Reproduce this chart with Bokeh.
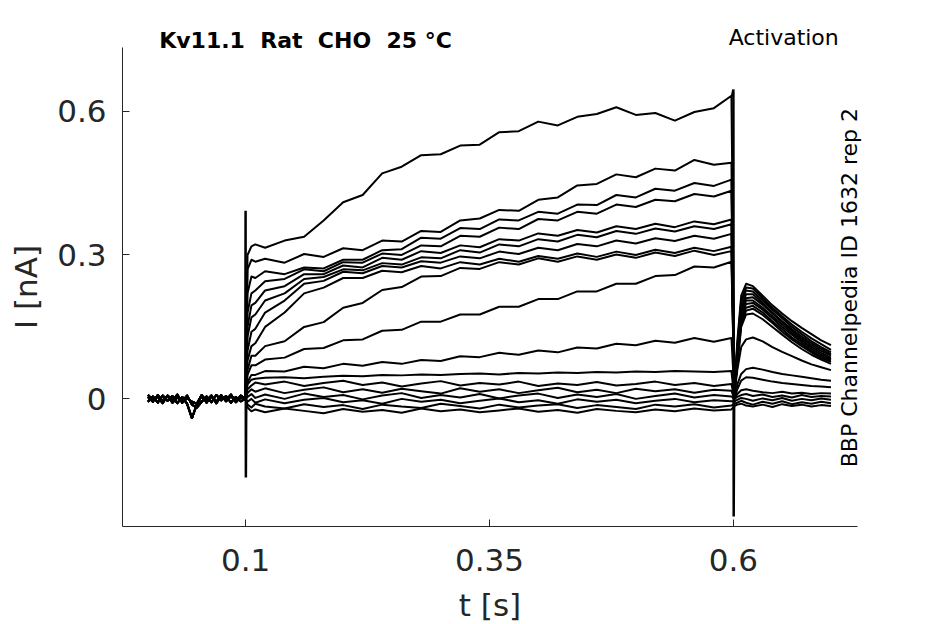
from bokeh.plotting import figure
from bokeh.models import Range1d, FixedTicker, Label
from bokeh.embed import file_html
from bokeh.resources import INLINE
import math

# time grids (s)
t_pre = [0.0, 0.005, 0.01, 0.015, 0.02, 0.025, 0.03, 0.035, 0.04, 0.045, 0.05,
         0.055, 0.06, 0.065, 0.07, 0.075, 0.08, 0.085, 0.09, 0.095, 0.0995]
t_step = [0.100, 0.102, 0.106, 0.110, 0.120, 0.140, 0.160, 0.180, 0.200, 0.220,
          0.240, 0.260, 0.280, 0.300, 0.320, 0.340, 0.360, 0.380, 0.400, 0.420,
          0.440, 0.460, 0.480, 0.500, 0.520, 0.540, 0.560, 0.580, 0.598]
t_tail = [0.601, 0.604, 0.608, 0.613, 0.62, 0.63, 0.64, 0.65, 0.66, 0.67, 0.68, 0.69, 0.70]

# holding baselines (nA)
pre_1 = [0.004, -0.006, 0.008, -0.004, 0.006, -0.008, 0.003, -0.005, 0.007, -0.012, -0.018,
         -0.006, 0.005, -0.007, 0.008, -0.003, 0.006, -0.008, 0.004, -0.005, 0.0]
pre_2 = [-0.006, 0.005, -0.008, 0.007, -0.004, 0.006, -0.009, 0.004, -0.01, -0.04, -0.012,
         0.006, -0.008, 0.005, -0.006, 0.008, -0.005, 0.006, -0.007, 0.004, 0.0]
pre_3 = [0.008, -0.002, 0.004, -0.009, 0.007, -0.003, 0.009, -0.008, 0.002, -0.006, -0.01,
         0.008, -0.004, 0.007, -0.009, 0.005, -0.002, 0.009, -0.006, 0.007, 0.0]

# activation step currents (nA)
step_a = [0.0, 0.30, 0.318, 0.322, 0.315, 0.33, 0.338, 0.372, 0.41, 0.425, 0.47, 0.484, 0.508, 0.51,
          0.528, 0.53, 0.556, 0.558, 0.578, 0.57, 0.588, 0.594, 0.608, 0.592, 0.596, 0.58, 0.598, 0.606, 0.632]
step_b = [0.0, 0.27, 0.29, 0.286, 0.292, 0.284, 0.302, 0.296, 0.314, 0.31, 0.33, 0.328, 0.35, 0.348,
          0.372, 0.376, 0.394, 0.392, 0.415, 0.42, 0.445, 0.448, 0.468, 0.462, 0.48, 0.476, 0.498, 0.488, 0.492]
step_c = [0.0, 0.22, 0.255, 0.252, 0.266, 0.26, 0.274, 0.272, 0.29, 0.29, 0.31, 0.312, 0.336, 0.334,
          0.356, 0.354, 0.374, 0.372, 0.39, 0.386, 0.405, 0.404, 0.425, 0.42, 0.438, 0.434, 0.45, 0.444, 0.457]
step_d = [0.0, 0.18, 0.22, 0.226, 0.245, 0.25, 0.27, 0.266, 0.285, 0.284, 0.303, 0.3, 0.32, 0.318,
          0.34, 0.338, 0.357, 0.354, 0.375, 0.372, 0.39, 0.386, 0.405, 0.4, 0.415, 0.412, 0.427, 0.422, 0.434]
step_e = [0.0, 0.15, 0.195, 0.2, 0.226, 0.235, 0.26, 0.26, 0.278, 0.274, 0.294, 0.29, 0.308, 0.304,
          0.32, 0.316, 0.333, 0.33, 0.345, 0.34, 0.352, 0.347, 0.36, 0.354, 0.365, 0.358, 0.37, 0.364, 0.374]
step_f = [0.0, 0.13, 0.17, 0.176, 0.205, 0.22, 0.25, 0.254, 0.27, 0.268, 0.283, 0.28, 0.295, 0.293,
          0.31, 0.305, 0.322, 0.318, 0.333, 0.328, 0.342, 0.337, 0.35, 0.344, 0.355, 0.349, 0.36, 0.354, 0.364]
step_g = [0.0, 0.10, 0.14, 0.146, 0.18, 0.205, 0.24, 0.246, 0.265, 0.262, 0.277, 0.274, 0.287, 0.284,
          0.297, 0.293, 0.307, 0.302, 0.315, 0.31, 0.323, 0.318, 0.33, 0.324, 0.335, 0.329, 0.34, 0.334, 0.344]
step_h = [0.0, 0.08, 0.11, 0.116, 0.15, 0.18, 0.22, 0.232, 0.252, 0.252, 0.267, 0.264, 0.277, 0.272,
          0.285, 0.28, 0.292, 0.286, 0.298, 0.292, 0.303, 0.296, 0.307, 0.3, 0.311, 0.304, 0.315, 0.308, 0.317]
step_i = [0.0, 0.06, 0.09, 0.09, 0.11, 0.12, 0.15, 0.16, 0.19, 0.2, 0.227, 0.233, 0.255, 0.256,
          0.273, 0.271, 0.285, 0.28, 0.293, 0.286, 0.297, 0.29, 0.301, 0.294, 0.305, 0.298, 0.309, 0.3, 0.308]
step_j = [0.0, 0.05, 0.07, 0.07, 0.082, 0.086, 0.104, 0.106, 0.122, 0.124, 0.142, 0.144, 0.161, 0.161,
          0.176, 0.176, 0.192, 0.192, 0.208, 0.208, 0.224, 0.224, 0.24, 0.24, 0.256, 0.258, 0.276, 0.274, 0.286]
step_k = [0.0, 0.035, 0.05, 0.05, 0.058, 0.057, 0.067, 0.064, 0.073, 0.069, 0.077, 0.073, 0.081, 0.079,
          0.089, 0.087, 0.096, 0.092, 0.101, 0.097, 0.107, 0.105, 0.115, 0.112, 0.121, 0.117, 0.127, 0.119, 0.127]
step_l = [0.0, 0.03, 0.04, 0.042, 0.044, 0.045, 0.043, 0.046, 0.048, 0.047, 0.05, 0.049, 0.051, 0.05,
          0.052, 0.053, 0.051, 0.054, 0.053, 0.055, 0.054, 0.056, 0.055, 0.057, 0.056, 0.058, 0.057, 0.056, 0.058]
step_m = [0.0, 0.02, 0.028, 0.034, 0.03, 0.036, 0.027, 0.033, 0.038, 0.029, 0.034, 0.026, 0.032, 0.037,
          0.028, 0.033, 0.03, 0.036, 0.027, 0.032, 0.029, 0.035, 0.028, 0.031, 0.036, 0.029, 0.033, 0.027, 0.031]
step_n = [0.0, 0.012, 0.02, 0.015, 0.022, 0.012, 0.019, 0.024, 0.014, 0.02, 0.013, 0.021, 0.016, 0.011,
          0.022, 0.015, 0.02, 0.012, 0.018, 0.023, 0.014, 0.019, 0.012, 0.021, 0.016, 0.02, 0.013, 0.019, 0.017]
step_o = [0.0, 0.004, 0.01, 0.002, 0.009, 0.0, 0.011, 0.004, 0.008, -0.001, 0.007, 0.012, 0.002, 0.008,
          0.003, 0.01, 0.001, 0.007, 0.011, 0.002, 0.009, 0.004, 0.01, 0.0, 0.006, 0.011, 0.003, 0.008, 0.005]
step_p = [0.0, -0.006, 0.0, -0.008, -0.001, -0.009, -0.002, 0.002, -0.007, -0.003, -0.01, 0.0, -0.006, -0.002,
          -0.009, -0.004, 0.001, -0.007, -0.003, -0.01, -0.001, -0.006, -0.002, -0.009, -0.004, 0.0, -0.007, -0.003, -0.005]
step_q = [0.0, -0.012, -0.018, -0.01, -0.016, -0.02, -0.011, -0.017, -0.013, -0.021, -0.012, -0.016, -0.019, -0.01,
          -0.015, -0.02, -0.012, -0.018, -0.014, -0.011, -0.019, -0.013, -0.017, -0.021, -0.012, -0.016, -0.011, -0.018, -0.014]
step_r = [0.0, -0.018, -0.026, -0.022, -0.028, -0.02, -0.025, -0.03, -0.021, -0.027, -0.023, -0.029, -0.02, -0.026,
          -0.022, -0.028, -0.024, -0.02, -0.027, -0.023, -0.029, -0.021, -0.025, -0.028, -0.022, -0.026, -0.02, -0.024, -0.022]

# tail currents after repolarisation (nA)
tail_a = [0.02, 0.11, 0.205, 0.232, 0.23, 0.21, 0.19, 0.172, 0.155, 0.14, 0.126, 0.114, 0.102]
tail_b = [0.02, 0.12, 0.215, 0.24, 0.235, 0.215, 0.195, 0.178, 0.162, 0.148, 0.135, 0.122, 0.112]
tail_c = [0.02, 0.105, 0.2, 0.226, 0.224, 0.205, 0.186, 0.168, 0.15, 0.135, 0.12, 0.108, 0.097]
tail_d = [0.02, 0.1, 0.19, 0.218, 0.218, 0.2, 0.18, 0.162, 0.145, 0.13, 0.116, 0.104, 0.093]
tail_e = [0.015, 0.095, 0.185, 0.21, 0.212, 0.196, 0.178, 0.16, 0.142, 0.126, 0.112, 0.1, 0.09]
tail_f = [0.015, 0.09, 0.178, 0.205, 0.205, 0.19, 0.172, 0.155, 0.138, 0.122, 0.108, 0.096, 0.086]
tail_g = [0.015, 0.085, 0.17, 0.198, 0.2, 0.186, 0.168, 0.15, 0.134, 0.118, 0.104, 0.092, 0.083]
tail_h = [0.01, 0.08, 0.165, 0.19, 0.194, 0.18, 0.162, 0.145, 0.128, 0.114, 0.1, 0.088, 0.08]
tail_i = [0.01, 0.075, 0.155, 0.184, 0.188, 0.175, 0.158, 0.14, 0.124, 0.11, 0.097, 0.085, 0.077]
tail_j = [0.01, 0.07, 0.15, 0.176, 0.178, 0.166, 0.15, 0.134, 0.118, 0.104, 0.092, 0.082, 0.073]
tail_k = [0.01, 0.06, 0.108, 0.124, 0.128, 0.12, 0.108, 0.098, 0.089, 0.08, 0.072, 0.066, 0.06]
tail_l = [0.0, 0.03, 0.052, 0.062, 0.065, 0.061, 0.056, 0.052, 0.049, 0.046, 0.043, 0.04, 0.038]
tail_m = [0.0, 0.02, 0.038, 0.045, 0.044, 0.04, 0.036, 0.033, 0.031, 0.029, 0.027, 0.026, 0.024]
tail_n = [0.0, 0.01, 0.018, 0.02, 0.017, 0.014, 0.012, 0.015, 0.011, 0.013, 0.01, 0.012, 0.011]
tail_o = [0.0, 0.004, 0.008, 0.01, 0.006, 0.009, 0.004, 0.007, 0.003, 0.008, 0.004, 0.006, 0.005]
tail_p = [-0.005, -0.002, 0.002, 0.0, -0.004, 0.001, -0.003, 0.002, -0.004, 0.0, -0.003, 0.001, -0.002]
tail_q = [-0.01, -0.008, -0.004, -0.008, -0.012, -0.006, -0.01, -0.005, -0.011, -0.007, -0.01, -0.006, -0.009]
tail_r = [-0.015, -0.012, -0.01, -0.014, -0.016, -0.012, -0.017, -0.011, -0.015, -0.012, -0.016, -0.013, -0.015]

# capacitive transients at the voltage jumps
spike_on_t = [0.0997, 0.1, 0.1003, 0.1008]
spike_on_i = [0.0, 0.392, -0.164, 0.05]
spike_off_t = [0.5985, 0.6, 0.6003, 0.6008]
spike_off_i = [0.63, 0.645, -0.245, 0.0]

steps = [step_a, step_b, step_c, step_d, step_e, step_f, step_g, step_h, step_i,
         step_j, step_k, step_l, step_m, step_n, step_o, step_p, step_q, step_r]
tails = [tail_a, tail_b, tail_c, tail_d, tail_e, tail_f, tail_g, tail_h, tail_i,
         tail_j, tail_k, tail_l, tail_m, tail_n, tail_o, tail_p, tail_q, tail_r]
pres = [pre_1, pre_2, pre_3]

AX = "#262626"
FONT = "DejaVu Sans"

p = figure(frame_width=735, frame_height=479,
           x_range=Range1d(-0.02616, 0.7272),
           y_range=Range1d(-0.26604, 0.7325),
           min_border_left=122, min_border_right=80,
           min_border_top=47, min_border_bottom=90,
           output_backend="svg", toolbar_location=None, tools="")
p.outline_line_color = None
p.xgrid.visible = False
p.ygrid.visible = False
p.background_fill_color = "white"
p.border_fill_color = "white"

t_all = t_pre + t_step + t_tail
for k, (s, tl) in enumerate(zip(steps, tails)):
    p.line(t_all, pres[k % 3] + s + tl, line_color="black", line_width=2, line_join="round")

p.line(spike_on_t, spike_on_i, line_color="black", line_width=2.5)
p.line(spike_off_t, spike_off_i, line_color="black", line_width=2.5)

for ax in (p.xaxis[0], p.yaxis[0]):
    ax.axis_line_color = AX
    ax.axis_line_width = 1
    ax.major_tick_line_color = AX
    ax.major_tick_in = 7
    ax.major_tick_out = 0
    ax.minor_tick_line_color = None
    ax.major_label_text_font = FONT
    ax.major_label_text_font_size = "31px"
    ax.major_label_text_color = AX
    ax.axis_label_text_font = FONT
    ax.axis_label_text_font_size = "31px"
    ax.axis_label_text_font_style = "normal"
    ax.axis_label_text_color = AX

p.xaxis.ticker = FixedTicker(ticks=[0.1, 0.35, 0.6])
p.xaxis.major_label_overrides = {0.1: "0.1", 0.35: "0.35", 0.6: "0.6"}
p.yaxis.ticker = FixedTicker(ticks=[0, 0.3, 0.6])
p.yaxis.major_label_overrides = {0: "0", 0.3: "0.3", 0.6: "0.6"}
p.xaxis.axis_label = "t [s]"
p.yaxis.axis_label = "I [nA]"
p.xaxis.major_label_standoff = 22
p.yaxis.major_label_standoff = 16
p.xaxis.axis_label_standoff = 13
p.yaxis.axis_label_standoff = 10

# texts around the axes live in side panels so that they are not clipped
# (only the title above, so the top border stays at 47 px)
p.add_layout(Label(x=0.01149, y=0.7465, text="Kv11.1 \u00a0Rat \u00a0CHO \u00a025 °C",
                   text_font=FONT, text_font_size="22px", text_font_style="bold",
                   text_color="black", text_align="left", text_baseline="alphabetic"), "above")
p.add_layout(Label(x=0.7193, y=0.2319, text="BBP Channelpedia ID 1632 rep 2",
                   angle=math.pi / 2, text_font=FONT, text_font_size="22px",
                   text_color="black", text_align="center", text_baseline="alphabetic"), "right")
p.add_layout(Label(x=0.7080, y=0.7525, text="Activation",
                   text_font=FONT, text_font_size="22px",
                   text_color="black", text_align="right", text_baseline="alphabetic"), "right")

open("out.html", "w").write(file_html(p, INLINE))
